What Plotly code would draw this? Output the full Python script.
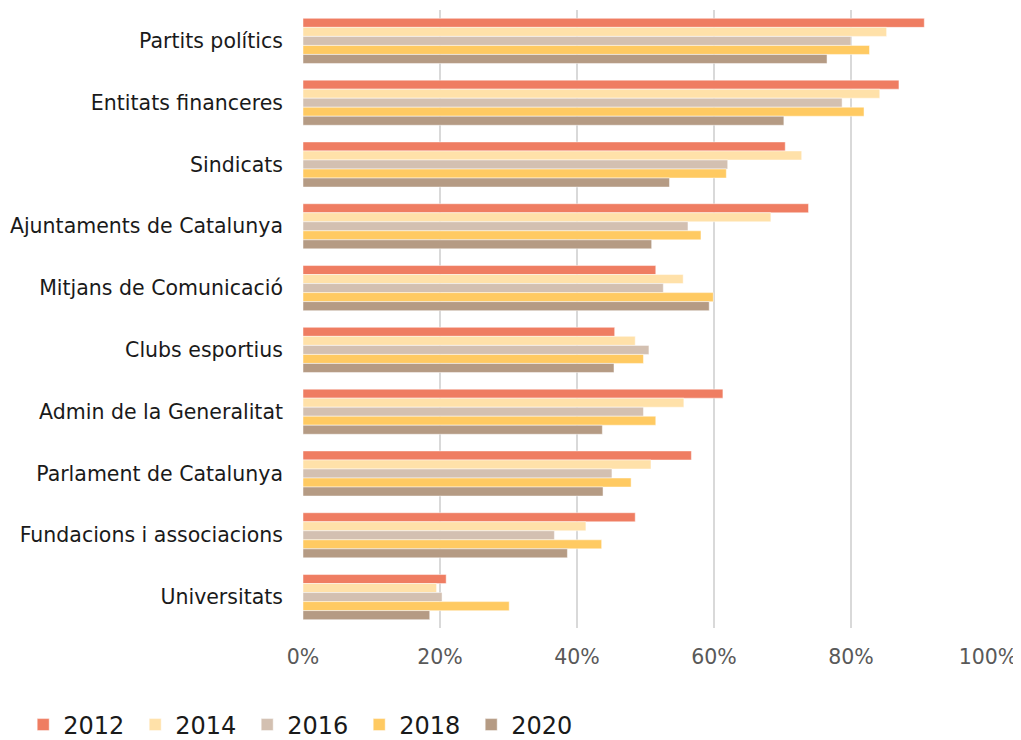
import plotly.graph_objects as go

categories = ["Partits polítics", "Entitats financeres", "Sindicats", "Ajuntaments de Catalunya",
              "Mitjans de Comunicació", "Clubs esportius", "Admin de la Generalitat",
              "Parlament de Catalunya", "Fundacions i associacions", "Universitats"]
years = ["2012", "2014", "2016", "2018", "2020"]
v2012 = [90.7, 87.0, 70.4, 73.8, 51.5, 45.5, 61.3, 56.7, 48.5, 20.9]
v2014 = [85.2, 84.2, 72.8, 68.3, 55.5, 48.5, 55.6, 50.8, 41.3, 19.5]
v2016 = [80.0, 78.7, 62.0, 56.2, 52.6, 50.5, 49.7, 45.1, 36.7, 20.3]
v2018 = [82.7, 81.9, 61.8, 58.1, 59.9, 49.7, 51.5, 47.9, 43.6, 30.1]
v2020 = [76.5, 70.2, 53.5, 50.9, 59.3, 45.4, 43.7, 43.8, 38.6, 18.5]
series = [v2012, v2014, v2016, v2018, v2020]
colors = ["#EF7D62", "#FFE1A9", "#D3C0B1", "#FFCA62", "#B59B84"]

fig = go.Figure()
for name, vals, col in zip(years, series, colors):
    fig.add_trace(go.Bar(
        y=categories, x=[v / 100 for v in vals], name=name, orientation="h",
        marker=dict(color=col, line=dict(color="rgba(255,255,255,0.6)", width=0.8)),
    ))

fig.update_layout(
    width=1013, height=732,
    barmode="group", bargap=0.27, bargroupgap=0,
    plot_bgcolor="white", paper_bgcolor="white",
    margin=dict(l=295, r=33, t=2, b=112),
    font=dict(family="DejaVu Sans, sans-serif", color="#1a1a1a"),
    xaxis=dict(range=[0, 1.0], tickvals=[0, 0.2, 0.4, 0.6, 0.8, 1.0], tickformat=".0%",
               showgrid=True, gridcolor="#D9D9D9", gridwidth=2, zeroline=False,
               tickfont=dict(size=20.5, color="#595959"), ticklabelstandoff=14,
               showline=False, automargin=False),
    yaxis=dict(autorange="reversed", tickfont=dict(size=20.5, color="#1a1a1a"),
               ticklabelstandoff=19, showgrid=False, showline=False, automargin=False),
    legend=dict(orientation="h", xref="container", yref="container", x=0.015, y=0.0205,
                xanchor="left", yanchor="middle", font=dict(size=24, color="#1a1a1a"),
                traceorder="normal", itemwidth=30, entrywidth=67, entrywidthmode="pixels"),
)
fig.write_html("out.html")
